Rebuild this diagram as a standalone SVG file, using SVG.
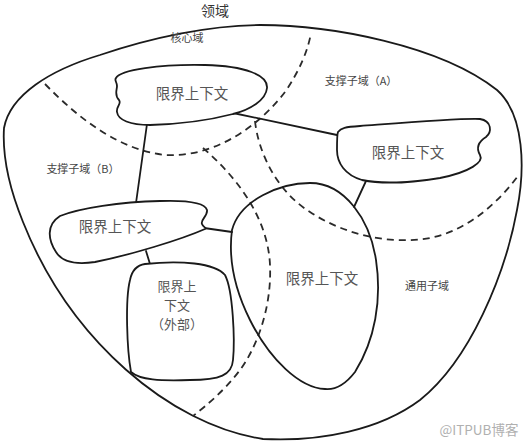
<svg xmlns="http://www.w3.org/2000/svg" width="528" height="445" viewBox="0 0 528 445">
<style>
.ln{fill:none;stroke:#1a1a1a;stroke-width:1.8;stroke-linejoin:round;stroke-linecap:round}
.ctx{fill:#fff;stroke:#1a1a1a;stroke-width:1.8;stroke-linejoin:round}
.dash{fill:none;stroke:#2a2a2a;stroke-width:1.8;stroke-dasharray:7 5}
.t{font-family:"Noto Sans CJK SC","Noto Sans",sans-serif;fill:#555;text-anchor:middle;dominant-baseline:central}
.big{font-size:14.5px}
.sm{font-size:11px;fill:#444}
</style>
<rect width="528" height="445" fill="#fff"/>
<g id="domain">
<path class="ln" d="M 260 25 C 330 25, 440 45, 497 90 C 525 115, 525 170, 517 210 C 505 275, 470 360, 420 400 C 380 430, 320 442, 263 439 C 170 425, 70 340, 23 222 C 12 195, 2 160, 4 128 C 10 95, 50 70, 100 55 C 150 38, 210 25, 260 25 Z"/>
<text class="t" x="215" y="10" style="font-size:14px;fill:#333">领域</text>
</g>
<g id="subdomains">
<path class="dash" d="M 45 84 C 80 120, 120 150, 165 155 C 215 158, 260 125, 285 92 C 300 70, 308 50, 311 33"/>
<path class="dash" d="M 203 148 C 240 180, 268 220, 270 265 C 272 310, 255 350, 240 370 C 225 390, 207 405, 193 416"/>
<path class="dash" d="M 255 121 C 258 150, 275 190, 310 212 C 345 235, 390 245, 430 238 C 470 230, 500 200, 518 176"/>
<text class="t sm" x="187" y="37">核心域</text>
<text class="t sm" x="361" y="80">支撑子域（A）</text>
<text class="t sm" x="83" y="168">支撑子域（B）</text>
<text class="t sm" x="427" y="285">通用子域</text>
</g>
<g id="connectors">
<line class="ln" x1="233" y1="113" x2="337" y2="135"/>
<line class="ln" x1="147" y1="124" x2="136" y2="203"/>
<line class="ln" x1="366" y1="181" x2="354" y2="207"/>
<line class="ln" x1="204" y1="228" x2="232" y2="232"/>
<line class="ln" x1="146" y1="251" x2="150" y2="264"/>
</g>
<g id="ctx-core">
<path class="ctx" d="M 116 78 C 120 70, 160 64, 205 65 C 245 66, 268 75, 267 88 C 266 100, 250 110, 233 114 C 210 120, 185 124, 150 125 C 130 125, 118 120, 117 112 C 116 106, 122 104, 119 100 C 114 95, 117 90, 117 86 C 117 82, 114 80, 116 78 Z"/>
<text class="t big" x="192" y="92">限界上下文</text>
</g>
<g id="ctx-supportA">
<path class="ctx" d="M 338 132 C 341 128, 345 127, 360 126 C 400 123, 460 118, 480 119 C 492 121, 492 132, 486 137 C 478 142, 476 148, 480 155 C 484 162, 470 172, 440 178 C 410 183, 380 184, 362 180 C 345 175, 337 163, 337 150 C 337 140, 337 134, 338 132 Z"/>
<text class="t big" x="408" y="151">限界上下文</text>
</g>
<g id="ctx-supportB">
<path class="ctx" d="M 60 216 C 80 208, 120 202, 160 201 C 190 200, 205 203, 207 210 C 208 216, 200 220, 202 224 C 203 227, 207 228, 205 229 C 180 240, 130 255, 95 262 C 75 265, 62 262, 56 252 C 48 240, 46 225, 60 216 Z"/>
<text class="t big" x="115" y="225">限界上下文</text>
</g>
<g id="ctx-external">
<path class="ctx" d="M 145 264 C 180 260, 215 263, 225 275 C 233 290, 235 340, 233 360 C 232 375, 220 380, 190 380 C 160 381, 140 380, 131 372 C 127 350, 125 300, 130 280 C 132 270, 138 265, 145 264 Z"/>
<text class="t" style="font-size:13px"><tspan x="177" y="285">限界上</tspan><tspan x="177" y="304">下文</tspan><tspan x="177" y="323">（外部）</tspan></text>
</g>
<g id="ctx-generic">
<path class="ln" d="M 310 183 C 345 183, 370 220, 376 260 C 382 300, 375 340, 355 372 C 345 385, 335 390, 325 389 C 300 388, 270 360, 250 320 C 235 290, 228 260, 232 230 C 240 200, 280 183, 310 183 Z"/>
<text class="t big" x="322" y="277">限界上下文</text>
</g>
<text class="t" x="479" y="429" style="font-size:13.5px;fill:#b0b0b0">@ITPUB博客</text>
</svg>
